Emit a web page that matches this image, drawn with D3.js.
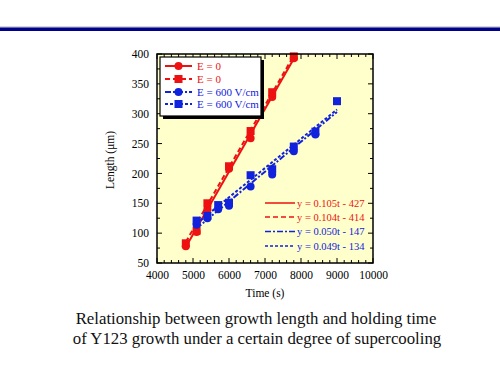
<!DOCTYPE html>
<html><head><meta charset="utf-8">
<script src="https://cdn.jsdelivr.net/npm/d3@7"></script>
<style>body{margin:0;background:#fff;} svg{display:block;}</style>
</head><body>
<svg id="c" width="500" height="375"></svg>
<script>
// ---- data ----
const timesE0 = [4800, 5100, 5400, 6000, 6600, 7200, 7800];
const e0Circle = [78, 102, 140, 208, 259, 328, 393];
const e0Square = [83, 104, 150, 212, 271, 336, 396];
const timesE600Circle = [5100, 5400, 5700, 6000, 6600, 7200, 7800, 8400];
const e600Circle = [114, 125, 140, 146, 178, 198, 237, 265];
const timesE600Square = [5100, 5400, 5700, 6000, 6600, 7200, 7800, 8400, 9000];
const e600Square = [121, 129, 147, 151, 197, 207, 245, 270, 321];
const fitLabels = ["y = 0.105t - 427", "y = 0.104t - 414", "y = 0.050t - 147", "y = 0.049t - 134"];
const fitSlopes = [0.105, 0.104, 0.050, 0.049];
const fitIntercepts = [-427, -414, -147, -134];
const fitStart = [4800, 4800, 5100, 5100];
const fitEnd = [7800, 7800, 9000, 9000];
const legendLabels = ["E = 0", "E = 0", "E = 600 V/cm", "E = 600 V/cm"];
const xTicks = [4000, 5000, 6000, 7000, 8000, 9000, 10000];
const yTicks = [50, 100, 150, 200, 250, 300, 350, 400];

const RED = "#ee1111", BLUE = "#1122dd";
const series = [
  {t: timesE0, v: e0Circle, color: RED, marker: "circle", dash: null},
  {t: timesE0, v: e0Square, color: RED, marker: "square", dash: "5,3"},
  {t: timesE600Circle, v: e600Circle, color: BLUE, marker: "circle", dash: "6,2,2,2"},
  {t: timesE600Square, v: e600Square, color: BLUE, marker: "square", dash: "3,2"}
];

const svg = d3.select("#c");
const font = "'Liberation Serif','Times New Roman',serif";

// top rule
svg.append("rect").attr("x", 0).attr("y", 26.5).attr("width", 500).attr("height", 1).attr("fill", "#aab");
svg.append("rect").attr("x", 0).attr("y", 27.5).attr("width", 500).attr("height", 3.5).attr("fill", "#00008b");

const L = 157, R = 373, T = 54, B = 263;
const x = d3.scaleLinear().domain([4000, 10000]).range([L, R]);
const y = d3.scaleLinear().domain([50, 400]).range([B, T]);

svg.append("rect").attr("x", L).attr("y", T).attr("width", R - L).attr("height", B - T).attr("fill", "#ffffcc");

const clip = svg.append("defs").append("clipPath").attr("id", "pc");
clip.append("rect").attr("x", L).attr("y", T - 6).attr("width", R - L + 6).attr("height", B - T + 6);

// ticks (inward, all sides)
const tickG = svg.append("g").attr("stroke", "#000").attr("stroke-width", 1);
const xMinor = d3.range(4000, 10001, 200);
const yMinor = d3.range(50, 401, 25);
xMinor.forEach(v => {
  const len = v % 1000 === 0 ? 5 : 3;
  tickG.append("line").attr("x1", x(v)).attr("x2", x(v)).attr("y1", B).attr("y2", B - len);
  tickG.append("line").attr("x1", x(v)).attr("x2", x(v)).attr("y1", T).attr("y2", T + len);
});
yMinor.forEach(v => {
  const len = v % 50 === 0 ? 5 : 3;
  tickG.append("line").attr("x1", L).attr("x2", L + len).attr("y1", y(v)).attr("y2", y(v));
  tickG.append("line").attr("x1", R).attr("x2", R - len).attr("y1", y(v)).attr("y2", y(v));
});

// axes labels via d3 axes (tick labels only)
const xAxis = svg.append("g").attr("transform", `translate(0,${B})`)
  .call(d3.axisBottom(x).tickValues(xTicks).tickSize(0).tickPadding(8).tickFormat(d3.format("d")));
const yAxis = svg.append("g").attr("transform", `translate(${L},0)`)
  .call(d3.axisLeft(y).tickValues(yTicks).tickSize(0).tickPadding(8));
[xAxis, yAxis].forEach(a => {
  a.select(".domain").remove();
  a.selectAll("text").attr("font-family", font).attr("font-size", 11.5).attr("fill", "#000");
});

svg.append("text").attr("x", (L + R) / 2).attr("y", 297).attr("text-anchor", "middle")
  .attr("font-family", font).attr("font-size", 11.5).text("Time (s)");
svg.append("text").attr("transform", `translate(114,160) rotate(-90)`).attr("text-anchor", "middle")
  .attr("font-family", font).attr("font-size", 11.5).text("Length (μm)");

const plot = svg.append("g").attr("clip-path", "url(#pc)");

// fit lines
series.forEach((s, i) => {
  plot.append("line")
    .attr("x1", x(fitStart[i])).attr("y1", y(fitSlopes[i] * fitStart[i] + fitIntercepts[i]))
    .attr("x2", x(fitEnd[i])).attr("y2", y(fitSlopes[i] * fitEnd[i] + fitIntercepts[i]))
    .attr("stroke", s.color).attr("stroke-width", 2).attr("stroke-dasharray", s.dash);
});

function drawMarker(g, type, cx, cy, color) {
  if (type === "circle") g.append("circle").attr("cx", cx).attr("cy", cy).attr("r", 4).attr("fill", color);
  else g.append("rect").attr("x", cx - 4).attr("y", cy - 4).attr("width", 8).attr("height", 8).attr("fill", color);
}
series.forEach(s => {
  s.t.forEach((t, j) => drawMarker(plot, s.marker, x(t), y(s.v[j]), s.color));
});

// frame
svg.append("rect").attr("x", L).attr("y", T).attr("width", R - L).attr("height", B - T)
  .attr("fill", "none").attr("stroke", "#000").attr("stroke-width", 1.5);

// legend box with shadow
const lx = 160, ly = 57, lw = 101, lh = 59;
svg.append("rect").attr("x", lx + 3).attr("y", ly + 3).attr("width", lw).attr("height", lh).attr("fill", "#000");
svg.append("rect").attr("x", lx).attr("y", ly).attr("width", lw).attr("height", lh)
  .attr("fill", "#fff").attr("stroke", "#000").attr("stroke-width", 1.2);
const legRowY = [66, 79, 92, 104];
series.forEach((s, i) => {
  const yy = legRowY[i];
  svg.append("line").attr("x1", 165).attr("x2", 192).attr("y1", yy).attr("y2", yy)
    .attr("stroke", s.color).attr("stroke-width", 2).attr("stroke-dasharray", s.dash);
  drawMarker(svg, s.marker, 178.5, yy, s.color);
  svg.append("text").attr("x", 197).attr("y", yy + 4).attr("font-family", font).attr("font-size", 11)
    .attr("fill", s.color).text(legendLabels[i]);
});

// fit legend
const fitRowY = [203, 217, 231.5, 246];
series.forEach((s, i) => {
  const yy = fitRowY[i];
  svg.append("line").attr("x1", 265).attr("x2", 295).attr("y1", yy).attr("y2", yy)
    .attr("stroke", s.color).attr("stroke-width", 1.5).attr("stroke-dasharray", s.dash);
  svg.append("text").attr("x", 297).attr("y", yy + 3.5).attr("font-family", font).attr("font-size", 10.5)
    .attr("fill", s.color).text(fitLabels[i]);
});

// caption
svg.append("text").attr("x", 256).attr("y", 324).attr("text-anchor", "middle")
  .attr("font-family", font).attr("font-size", 16.8).attr("fill", "#111")
  .text("Relationship between growth length and holding time");
svg.append("text").attr("x", 257).attr("y", 344).attr("text-anchor", "middle")
  .attr("font-family", font).attr("font-size", 16.8).attr("fill", "#111")
  .text("of Y123 growth under a certain degree of supercooling");
</script>
</body></html>
